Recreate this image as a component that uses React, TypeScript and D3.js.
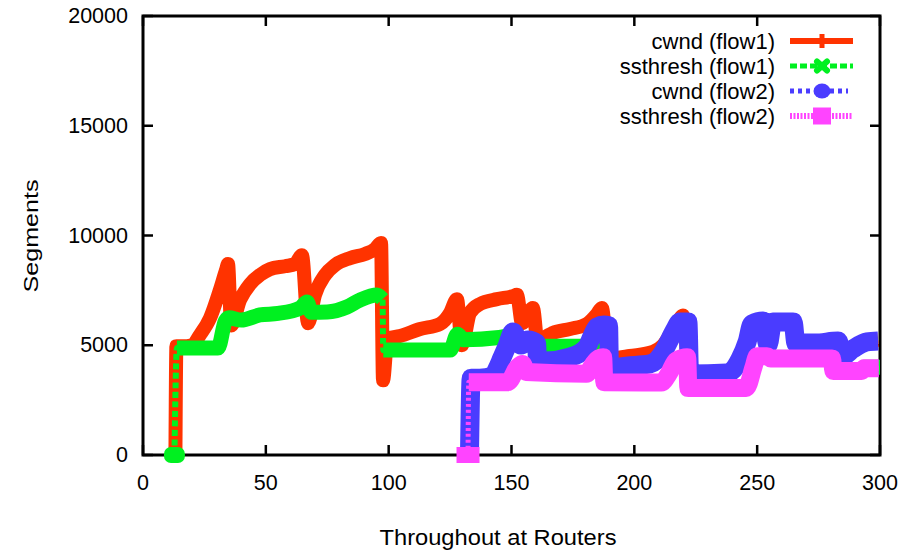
import React from 'react';
import * as d3 from 'd3';

const W = 919;
const H = 556;
const FONT = '"Liberation Sans", Arial, Helvetica, sans-serif';

// Axis ticks
const xTicks = [0, 50, 100, 150, 200, 250, 300];
const yTicks = [0, 5000, 10000, 15000, 20000];

const xTitle = 'Throughout at Routers';
const yTitle = 'Segments';

const seriesLabels = ['cwnd (flow1)', 'ssthresh (flow1)', 'cwnd (flow2)', 'ssthresh (flow2)'];

// cwnd of flow 1
const cwnd1Time = [13.2, 13.6, 16, 20, 23.2, 27.3, 31.3, 33.8, 34.6, 35.9, 39.5, 43.6, 47.6, 51.7, 57.8, 61.9, 64.7, 67.2, 70, 74.1, 78.2, 84.3, 90.4, 94.4, 96.9, 97.7, 99.5, 104.6, 112.8, 120.9, 125, 127.8, 129.8, 133.1, 137.2, 144.1, 150.6, 152.2, 154.3, 158.7, 160.8, 162.8, 166.9, 173.8, 180.7, 184.8, 186.8, 189.3, 192.9, 198.2, 207.6, 211.7, 215.3, 217.8, 219.8, 222.5, 237.7, 239.7, 243, 245.9, 247.9, 252.4, 254.4, 256.4, 264.6, 265.8, 282.9, 284.9, 289, 294.7, 299.2];
const cwnd1Seg = [0, 4950, 4950, 5000, 5470, 6240, 7520, 8430, 8700, 5900, 7060, 7790, 8200, 8470, 8600, 8700, 9100, 6000, 7290, 8200, 8660, 8970, 9160, 9380, 9660, 3400, 5300, 5420, 5740, 5970, 6470, 7100, 5000, 6470, 6880, 7100, 7240, 7300, 6000, 6700, 4970, 5280, 5560, 5740, 5970, 6420, 6700, 4300, 4420, 4510, 4700, 5000, 5600, 6100, 6350, 3750, 3750, 3850, 4350, 5100, 5950, 6200, 5000, 6050, 6000, 5100, 5200, 4500, 4800, 5150, 5250];

// ssthresh of flow 1
const ssth1Time = [12.8, 13.8, 14.2, 30.5, 33.5, 35, 40, 47.6, 55, 64, 66.8, 68.5, 75, 83, 88.3, 95.2, 97.5, 97.8, 125, 128, 130.5, 145, 150, 155, 160, 189, 190, 211, 214, 217, 221.5, 222, 245.5, 248.5, 250, 280.5, 281, 292.5, 293.5, 300];
const ssth1Seg = [0, 4870, 4870, 4870, 6100, 6250, 6150, 6380, 6450, 6700, 6970, 6500, 6515, 6743, 7060, 7290, 7100, 4780, 4780, 5500, 5250, 5350, 5450, 5100, 4950, 4950, 3400, 3300, 3650, 4250, 4400, 3100, 3100, 4000, 4450, 4400, 3850, 3850, 4000, 4000];

// cwnd of flow 2
const cwnd2Time = [132.9, 133.6, 137, 142.5, 144.1, 146, 148.2, 150.6, 153.9, 156.7, 160.2, 160.6, 163.6, 173.8, 180.7, 182.8, 184.8, 187.6, 189.5, 189.9, 194.2, 206.4, 211.7, 214.5, 216.6, 218.6, 221.8, 222.5, 237.7, 239.7, 243, 245.9, 247.9, 252.4, 254.4, 256.4, 264.6, 265.8, 273.5, 282.9, 284.9, 289, 294.7, 299.2];
const cwnd2Seg = [0, 3500, 3500, 3600, 3920, 4400, 4970, 5600, 5010, 5240, 5100, 4330, 4280, 4460, 4920, 5420, 5830, 5920, 5900, 3870, 4010, 4150, 4690, 5280, 5740, 6060, 6060, 3690, 3740, 3830, 4370, 5150, 5970, 6100, 5010, 6060, 6060, 5100, 5100, 5190, 4510, 4830, 5150, 5190];

// ssthresh of flow 2
const ssth2Time = [132.3, 132.6, 134.5, 148.5, 152.5, 154.5, 156, 180.5, 183, 185.5, 187.3, 187.8, 211, 214, 217, 221.5, 222, 245.5, 248.5, 250, 254, 255.5, 280.5, 281, 292.5, 293.5, 299.5];
const ssth2Seg = [0, 3320, 3320, 3320, 4000, 4150, 3780, 3700, 4100, 4400, 4450, 3320, 3300, 3700, 4300, 4450, 3050, 3050, 4000, 4500, 4500, 4400, 4400, 3830, 3830, 3950, 3950];

type Pt = [number, number];

interface Style {
  color: string;
  band: number; // width of the dense trace
  thin: number; // width of the plain line drawn across big jumps
  dash: string;
  splitJumps: boolean;
  startMarker: 'none' | 'blob' | 'square';
  legendDash: string;
  legendWidth: number;
  legendMarker: 'plus' | 'cross' | 'circle' | 'square';
}

const styles: Style[] = [
  { color: '#ff3300', band: 14, thin: 6, dash: '', splitJumps: false, startMarker: 'none', legendDash: '', legendWidth: 6, legendMarker: 'plus' },
  { color: '#00f020', band: 15, thin: 6, dash: '6,3.5', splitJumps: true, startMarker: 'blob', legendDash: '7,3', legendWidth: 5, legendMarker: 'cross' },
  { color: '#4a3cff', band: 19, thin: 5, dash: '4,4', splitJumps: false, startMarker: 'none', legendDash: '4,4', legendWidth: 5, legendMarker: 'circle' },
  { color: '#ff44ff', band: 18, thin: 5, dash: '3,3', splitJumps: true, startMarker: 'square', legendDash: '2,1.5', legendWidth: 6, legendMarker: 'square' },
];

const zip = (a: number[], b: number[]): Pt[] => a.map((v, i) => [v, b[i]]);

const seriesData: Pt[][] = [
  zip(cwnd1Time, cwnd1Seg),
  zip(ssth1Time, ssth1Seg),
  zip(cwnd2Time, cwnd2Seg),
  zip(ssth2Time, ssth2Seg),
];

// Split a trace into runs, breaking at sudden jumps so they render as a thin line
function runs(pts: Pt[], split: boolean): Pt[][] {
  const out: Pt[][] = [[pts[0]]];
  for (let i = 1; i < pts.length; i++) {
    const a = pts[i - 1];
    const b = pts[i];
    if (split && Math.abs(b[1] - a[1]) > 1500 && b[0] - a[0] < 2) out.push([b]);
    else out[out.length - 1].push(b);
  }
  return out.filter((r) => r.length > 1);
}

export default function App() {
  const x = d3.scaleLinear().domain([0, 300]).range([143, 880]);
  const y = d3.scaleLinear().domain([0, 20000]).range([455, 16]);
  const line = d3
    .line<Pt>()
    .x((d) => x(d[0]))
    .y((d) => y(d[1]))
    .curve(d3.curveMonotoneX);

  const [x0, x1] = x.range();
  const [y0, y1] = y.range();
  const tickLen = 10;

  const legendRows = [41, 66, 91, 116];
  const legendTextX = 775;
  const legendLine = [790, 853];
  const legendMarkX = 822;

  return (
    <svg
      width={W}
      height={H}
      style={{ position: 'absolute', left: 0, top: 0, background: '#fff' }}
      fontFamily={FONT}
    >
      <rect width={W} height={H} fill="#fff" />

      {/* frame and mirrored ticks */}
      <g stroke="#000" strokeWidth={2.5}>
        {xTicks.map((t) => (
          <g key={'xt' + t}>
            <line x1={x(t)} x2={x(t)} y1={y0} y2={y0 - tickLen} />
            <line x1={x(t)} x2={x(t)} y1={y1} y2={y1 + tickLen} />
          </g>
        ))}
        {yTicks.map((t) => (
          <g key={'yt' + t}>
            <line x1={x0} x2={x0 + tickLen} y1={y(t)} y2={y(t)} />
            <line x1={x1} x2={x1 - tickLen} y1={y(t)} y2={y(t)} />
          </g>
        ))}
        <rect x={x0} y={y1} width={x1 - x0} height={y0 - y1} fill="none" strokeWidth={3} />
      </g>

      {/* tick labels */}
      <g fontSize={21.5} fill="#000">
        {xTicks.map((t) => (
          <text key={'xl' + t} x={x(t)} y={483} textAnchor="middle" dominantBaseline="central">
            {t}
          </text>
        ))}
        {yTicks.map((t) => (
          <text key={'yl' + t} x={128} y={y(t)} textAnchor="end" dominantBaseline="central">
            {t}
          </text>
        ))}
      </g>

      {/* axis titles */}
      <text
        x={498}
        y={537}
        fontSize={22}
        textAnchor="middle"
        dominantBaseline="central"
        textLength={237}
        lengthAdjust="spacingAndGlyphs"
      >
        {xTitle}
      </text>
      <text
        transform={`translate(31,236) rotate(-90)`}
        fontSize={20}
        textAnchor="middle"
        dominantBaseline="central"
        textLength={113}
        lengthAdjust="spacingAndGlyphs"
      >
        {yTitle}
      </text>

      {/* traces */}
      {seriesData.map((pts, si) => {
        const s = styles[si];
        const first = pts[0];
        return (
          <g key={'s' + si}>
            <path
              d={line(pts) || ''}
              fill="none"
              stroke={s.color}
              strokeWidth={s.thin}
              strokeDasharray={s.dash || undefined}
            />
            {runs(pts, s.splitJumps).map((r, ri) => (
              <path
                key={ri}
                d={line(r) || ''}
                fill="none"
                stroke={s.color}
                strokeWidth={s.band}
                strokeLinejoin="round"
              />
            ))}
            {s.startMarker === 'blob' && (
              <rect
                x={x(first[0]) - 10.5}
                y={y(first[1]) - 8}
                width={21}
                height={16}
                rx={7}
                fill={s.color}
              />
            )}
            {s.startMarker === 'square' && (
              <rect x={x(first[0]) - 11.5} y={y(first[1]) - 8} width={23} height={16} fill={s.color} />
            )}
          </g>
        );
      })}

      {/* legend */}
      {seriesLabels.map((label, i) => {
        const s = styles[i];
        const ly = legendRows[i];
        return (
          <g key={'lg' + i}>
            <text
              x={legendTextX}
              y={ly}
              fontSize={22}
              textAnchor="end"
              dominantBaseline="central"
              fill="#000"
            >
              {label}
            </text>
            <line
              x1={legendLine[0]}
              x2={i === 2 ? legendLine[1] - 5 : legendLine[1]}
              y1={ly}
              y2={ly}
              stroke={s.color}
              strokeWidth={s.legendWidth}
              strokeDasharray={s.legendDash || undefined}
            />
            {s.legendMarker === 'plus' && (
              <rect x={legendMarkX - 2.5} y={ly - 7} width={5} height={14} fill={s.color} />
            )}
            {s.legendMarker === 'cross' && (
              <g stroke={s.color} strokeWidth={6} strokeLinecap="round">
                <line x1={legendMarkX - 5} y1={ly - 4.5} x2={legendMarkX + 5} y2={ly + 4.5} />
                <line x1={legendMarkX - 5} y1={ly + 4.5} x2={legendMarkX + 5} y2={ly - 4.5} />
              </g>
            )}
            {s.legendMarker === 'circle' && (
              <ellipse cx={legendMarkX} cy={ly} rx={8.5} ry={7.5} fill={s.color} />
            )}
            {s.legendMarker === 'square' && (
              <rect x={legendMarkX - 9} y={ly - 8.5} width={18} height={17} fill={s.color} />
            )}
          </g>
        );
      })}
    </svg>
  );
}
